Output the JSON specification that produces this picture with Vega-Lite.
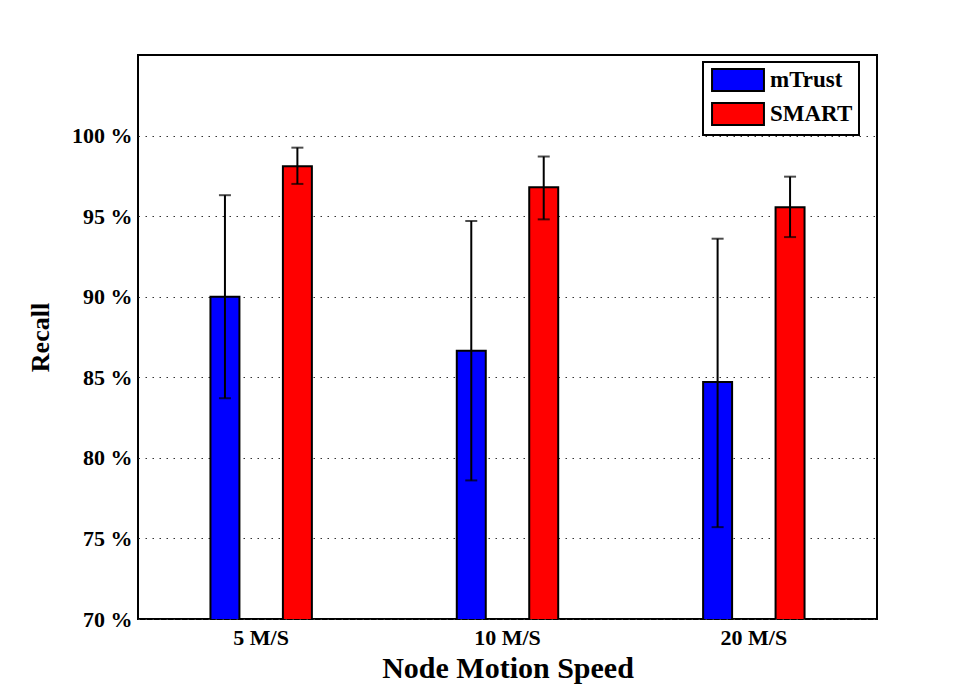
{
  "$schema": "https://vega.github.io/schema/vega-lite/v6.json",
  "width": 739,
  "height": 564,
  "autosize": {"type": "none"},
  "padding": {"left": 138, "top": 55, "right": 78, "bottom": 71},
  "background": "white",
  "config": {
    "view": {"stroke": "black", "strokeWidth": 2},
    "font": "Liberation Serif",
    "legend": {"strokeWidth": 2}
  },
  "data": {
    "values": [
      {"speed": "5 M/S", "method": "mTrust", "recall": 90.0, "lo": 83.7, "hi": 96.3},
      {"speed": "5 M/S", "method": "SMART", "recall": 98.1, "lo": 97.0, "hi": 99.25},
      {"speed": "10 M/S", "method": "mTrust", "recall": 86.65, "lo": 78.6, "hi": 94.7},
      {"speed": "10 M/S", "method": "SMART", "recall": 96.8, "lo": 94.8, "hi": 98.7},
      {"speed": "20 M/S", "method": "mTrust", "recall": 84.7, "lo": 75.7, "hi": 93.6},
      {"speed": "20 M/S", "method": "SMART", "recall": 95.55, "lo": 93.7, "hi": 97.45}
    ]
  },
  "encoding": {
    "x": {
      "field": "speed",
      "type": "nominal",
      "sort": ["5 M/S", "10 M/S", "20 M/S"],
      "scale": {"paddingInner": 0, "paddingOuter": 0},
      "axis": {
        "title": "Node Motion Speed",
        "labelAngle": 0,
        "labelFont": "Liberation Serif",
        "labelFontWeight": "bold",
        "labelFontSize": 22,
        "labelColor": "black",
        "labelPadding": 8,
        "ticks": false,
        "domain": false,
        "titleFont": "Liberation Serif",
        "titleFontWeight": "bold",
        "titleFontSize": 30,
        "titleColor": "black",
        "titlePadding": 5
      }
    },
    "xOffset": {
      "field": "method",
      "type": "nominal",
      "sort": ["mTrust", "SMART"],
      "scale": {"paddingInner": 0.6, "paddingOuter": 1.057}
    }
  },
  "layer": [
    {
      "mark": {"type": "bar", "stroke": "black", "strokeWidth": 2, "clip": true},
      "encoding": {
        "y": {
          "field": "recall",
          "type": "quantitative",
          "scale": {"domain": [70, 105], "nice": false, "zero": false},
          "axis": {
            "title": "Recall",
            "values": [70, 75, 80, 85, 90, 95, 100],
            "labelExpr": "datum.value + ' %'",
            "labelFont": "Liberation Serif",
            "labelFontWeight": "bold",
            "labelFontSize": 22,
            "labelColor": "black",
            "labelPadding": 6,
            "ticks": false,
            "domain": false,
            "grid": true,
            "gridColor": "#333333",
            "gridDash": [1.5, 5.5],
            "gridWidth": 1,
            "titleFont": "Liberation Serif",
            "titleFontWeight": "bold",
            "titleFontSize": 26,
            "titleColor": "black",
            "titlePadding": 18
          }
        },
        "fill": {
          "field": "method",
          "type": "nominal",
          "sort": ["mTrust", "SMART"],
          "scale": {"domain": ["mTrust", "SMART"], "range": ["#0000FF", "#FF0000"]},
          "legend": {
            "title": null,
            "orient": "none",
            "legendX": 565,
            "legendY": 7,
            "symbolType": "M-2.36,-1H2.36V1H-2.36Z",
            "symbolSize": 484,
            "symbolStrokeColor": "black",
            "symbolStrokeWidth": 2,
            "symbolOffset": 17,
            "labelOffset": 20,
            "labelFont": "Liberation Serif",
            "labelFontWeight": "bold",
            "labelFontSize": 23,
            "labelColor": "black",
            "rowPadding": 4,
            "padding": 6,
            "strokeColor": "black",
            "fillColor": "white"
          }
        }
      }
    },
    {
      "mark": {"type": "rule", "color": "black", "strokeWidth": 2},
      "encoding": {
        "y": {"field": "lo", "type": "quantitative"},
        "y2": {"field": "hi"}
      }
    },
    {
      "mark": {"type": "tick", "color": "black", "thickness": 2, "size": 12},
      "encoding": {
        "y": {"field": "lo", "type": "quantitative"}
      }
    },
    {
      "mark": {"type": "tick", "color": "black", "thickness": 2, "size": 12},
      "encoding": {
        "y": {"field": "hi", "type": "quantitative"}
      }
    }
  ]
}
